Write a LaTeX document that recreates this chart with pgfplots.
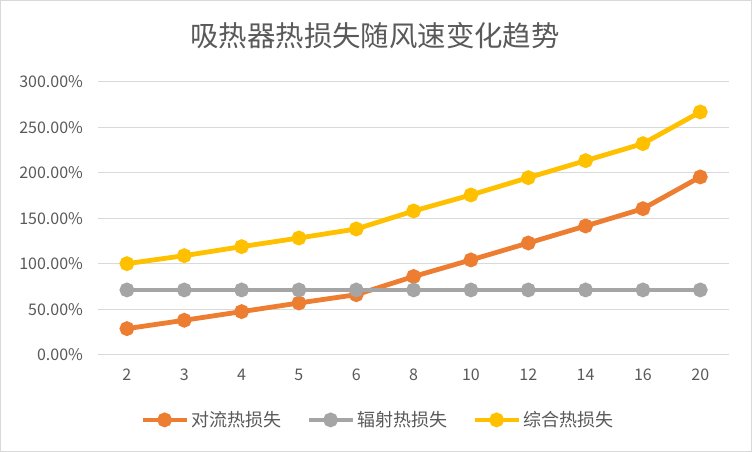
\documentclass[border=0pt]{standalone}
\usepackage{fontspec}
\setmainfont{Noto Sans CJK SC}
\usepackage{pgfplots}
\pgfplotsset{compat=1.18}

\definecolor{cOrange}{HTML}{ED7D31}
\definecolor{cGray}{HTML}{A5A5A5}
\definecolor{cYellow}{HTML}{FFC000}
\definecolor{cGrid}{HTML}{D9D9D9}
\definecolor{cText}{HTML}{595959}

\begin{document}
\begin{tikzpicture}
% chart frame, 752x452 px at 0.75pt/px
\draw[cGrid, line width=0.75pt] (0.375pt,0.375pt) rectangle (563.625pt,338.625pt);
\node[text=cText, font=\fontsize{21.3}{25}\selectfont] at (281.25pt,312.5pt) {吸热器热损失随风速变化趋势};

\begin{axis}[
    at={(73.7pt,73pt)}, anchor=south west,
    scale only axis, width=473pt, height=204.75pt,
    xmin=-0.5, xmax=10.5, ymin=0, ymax=300,
    clip=false,
    axis line style={draw=none},
    tick style={draw=none},
    ymajorgrids,
    grid style={cGrid, line width=0.9pt},
    xtick={0,...,10},
    xticklabels={2,3,4,5,6,8,10,12,14,16,20},
    ytick={0,50,...,300},
    yticklabels={0.00\%,50.00\%,100.00\%,150.00\%,200.00\%,250.00\%,300.00\%},
    /pgf/number format/assume math mode=true,
    ticklabel style={font=\fontsize{12}{14}\selectfont, text=cText},
    xticklabel style={yshift=-7pt},
    yticklabel style={xshift=-8pt},
    every axis plot/.append style={line width=3.6pt, mark=*, mark size=3.7pt, mark options={solid}},
    legend style={at={(0.444,-0.239)}, anchor=center, draw=none, fill=none,
        font=\fontsize{13.5}{16}\selectfont, text=cText,
        legend columns=3,
        /tikz/every even column/.append style={column sep=17pt},
        legend cell align=left},
    legend image code/.code={
        \draw[#1, mark=none, line width=3pt] (0pt,0pt) -- (33pt,0pt);
        \draw[#1, only marks, mark size=3.7pt] plot coordinates {(16.5pt,0pt)};
    },
]
\addplot[cOrange] coordinates {
    (0,28.6) (1,37.8) (2,47.3) (3,56.8) (4,65.9) (5,85.9)
    (6,104.1) (7,122.7) (8,141.4) (9,160.4) (10,195.3)
};
\addplot[cGray] coordinates {
    (0,71.1) (1,71.1) (2,71.1) (3,71.1) (4,71.1) (5,71.1)
    (6,71.1) (7,71.1) (8,71.1) (9,71.1) (10,71.1)
};
\addplot[cYellow] coordinates {
    (0,100.0) (1,108.8) (2,118.7) (3,128.2) (4,138.1) (5,157.9)
    (6,175.5) (7,194.5) (8,213.2) (9,231.9) (10,266.7)
};
\legend{对流热损失,辐射热损失,综合热损失}
\end{axis}
\end{tikzpicture}
\end{document}
